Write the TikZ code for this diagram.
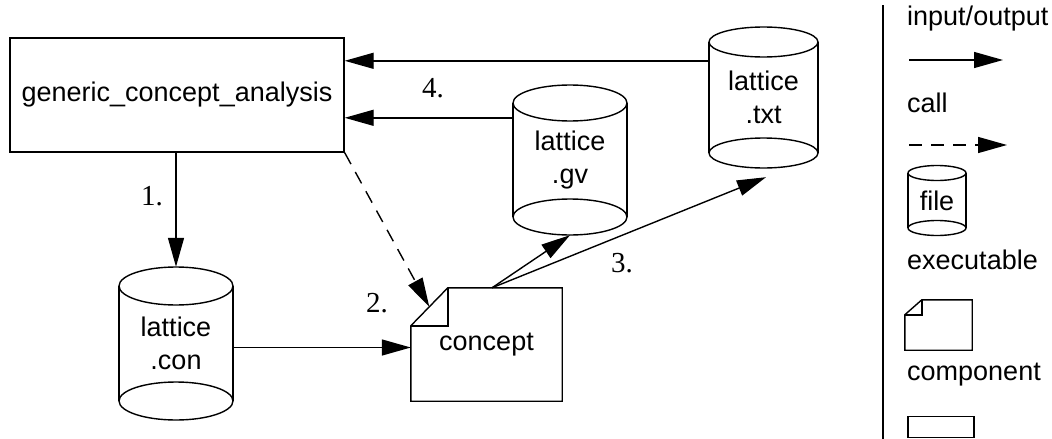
\documentclass[tikz,border=0pt]{standalone}
\usepackage{fontspec}
\newfontfamily\sans{Liberation Sans}
\newfontfamily\numserif{Liberation Serif}
\usetikzlibrary{arrows.meta}
\tikzset{
  lbl/.style={font=\sans\fontsize{27}{33}\selectfont, inner sep=0pt},
  num/.style={font=\numserif\fontsize{29}{33}\selectfont, inner sep=0pt},
  io/.style={line width=1.4pt, -{Triangle[length=29pt,width=16pt]}},
  callarrow/.style={io, dash pattern=on 13pt off 9pt},
  shp/.style={line width=1.4pt},
}
\newcommand\drawcyl[5]{% cx, rx, top y, bottom y, ry
  \draw[shp] ({#1-#2},#3) -- ({#1-#2},#4) ({#1+#2},#3) -- ({#1+#2},#4);
  \draw[shp] (#1,#3) ellipse [x radius=#2, y radius=#5];
  \draw[shp] (#1,#4) ellipse [x radius=#2, y radius=#5];
}
\begin{document}
\begin{tikzpicture}[x=1pt,y=-1pt]
\useasboundingbox (0,0) rectangle (1052,439);

% main box
\node[shp, draw, lbl, minimum width=334pt, minimum height=114pt] (box) at (177,95) {generic\_concept\_analysis};

% cylinders
\node[lbl, align=center, minimum width=114pt, minimum height=150pt] (gv) at (570,160) {lattice\\.gv};
\drawcyl{570}{57}{103}{217}{18}
\node[lbl, align=center, minimum width=109pt, minimum height=141pt] (txt) at (763.5,97.5) {lattice\\.txt};
\drawcyl{763.5}{54.5}{42}{153}{15}
\node[lbl, align=center, minimum width=114pt, minimum height=153pt] (con) at (176,343.5) {lattice\\.con};
\drawcyl{176}{57}{286}{401}{19}

% concept component
\node[lbl, minimum width=151pt, minimum height=113pt] (concept) at (486.5,344.5) {concept};
\draw[shp] ([xshift=37pt]concept.north west) -- (concept.north east) -- (concept.south east) -- (concept.south west) -- ([yshift=-38pt]concept.north west) -- cycle;
\draw[shp] ([xshift=37pt]concept.north west) -- ([xshift=37pt,yshift=-38pt]concept.north west) -- ([yshift=-38pt]concept.north west);
\coordinate (fold) at ([xshift=18.5pt,yshift=-19pt]concept.north west);

% connectors
\coordinate (txo) at ([yshift=-34pt]txt.north west);
\coordinate (gvo) at ([yshift=-33pt]gv.north west);
\draw[io] (txo) -- (txo -| box.east);
\draw[io] (gvo) -- (gvo -| box.east);
\draw[io] (box.south -| con.north) -- (con.north);
\coordinate (cono) at ([yshift=-4pt]con.east);
\draw[io] (cono) -- (cono -| concept.west);
\draw[callarrow] (box.south east) -- (fold);
\coordinate (cout) at ([xshift=5.5pt]concept.north);
\draw[io] (cout) -- (gv.south);
\draw[io] (cout) -- ([xshift=2.5pt,yshift=-9pt]txt.south);

% step labels
\node[num, anchor=base] (n1) at (152,205) {1.};
\node[num, anchor=base] (n2) at (377,312) {2.};
\node[num, anchor=base] (n3) at (622,272) {3.};
\node[num, anchor=base] (n4) at (433,97) {4.};

% legend
\coordinate (sepT) at (883,5);
\coordinate (sepB) at (883,439);
\draw[shp] (sepT) -- (sepB);
\node[lbl, anchor=base west] (tio) at (907,25) {input/output};
\coordinate (ioa) at (909,60);
\coordinate (iob) at (1003,60);
\draw[io] (ioa) -- (iob);
\node[lbl, anchor=base west] (tcall) at (907,112) {call};
\coordinate (ca) at (909,145);
\coordinate (cb) at (1007,145);
\draw[callarrow] (ca) -- (cb);
\node[lbl, minimum width=58pt, minimum height=70pt] (legcyl) at (937,200.5) {file};
\drawcyl{937}{29}{173}{228}{7.5}
\node[lbl, anchor=base west] (texe) at (907,269) {executable};
\node[minimum width=67pt, minimum height=50pt, inner sep=0pt] (legcomp) at (938.5,325) {};
\draw[shp] ([xshift=17pt]legcomp.north west) -- (legcomp.north east) -- (legcomp.south east) -- (legcomp.south west) -- ([yshift=-15pt]legcomp.north west) -- cycle;
\draw[shp] ([xshift=17pt]legcomp.north west) -- ([xshift=17pt,yshift=-15pt]legcomp.north west) -- ([yshift=-15pt]legcomp.north west);
\node[lbl, anchor=base west] (tcomp) at (907,380) {component};
\node[shp, draw, minimum width=66pt, minimum height=21pt, inner sep=0pt] (legbox) at (941,427) {};
\end{tikzpicture}
\end{document}
